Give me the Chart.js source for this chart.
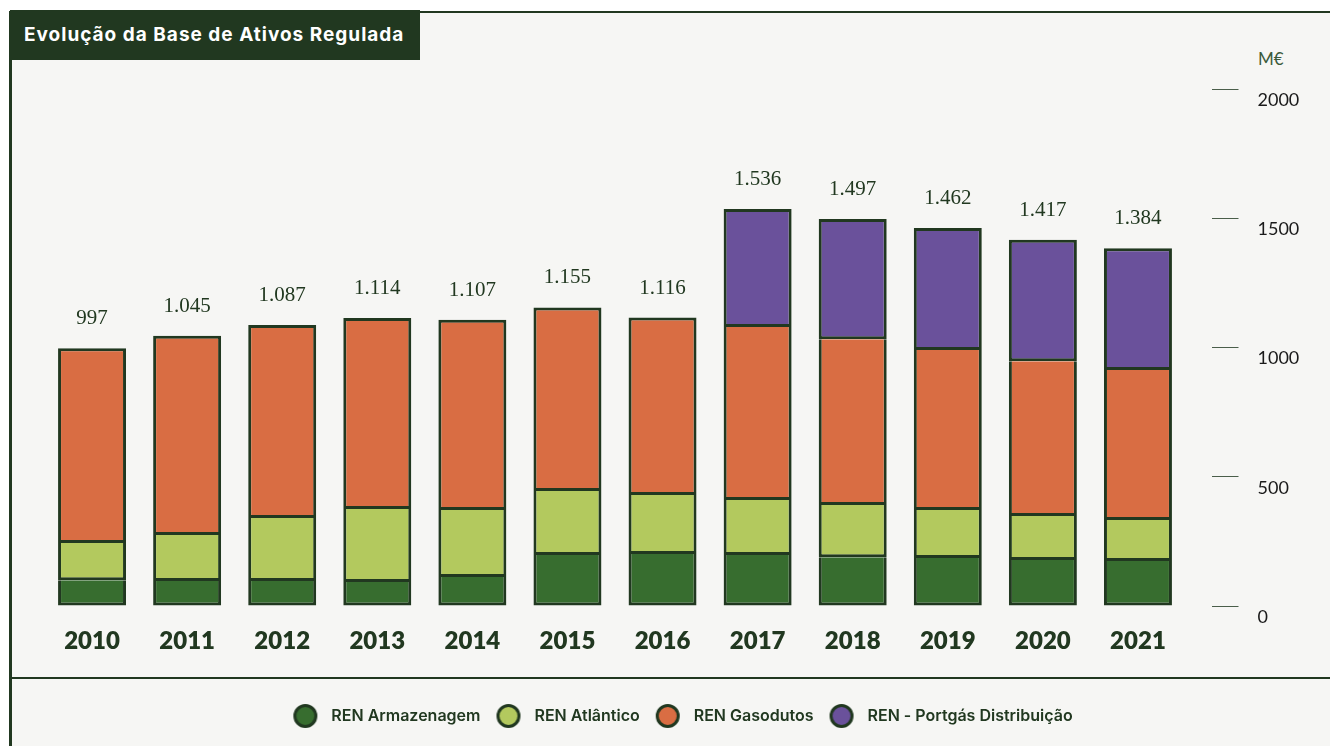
<!DOCTYPE html>
<html>
<head>
<meta charset="utf-8">
<script src="https://cdn.jsdelivr.net/npm/chart.js@4.4.1/dist/chart.umd.min.js"></script>
<style>
    html, body { margin: 0; padding: 0; background: #ffffff; }
    #frame {
        position: absolute; left: 9px; top: 11px; width: 1321px; height: 735px;
        background: #f6f6f4; border-left: 3px solid #213820; border-top: 2px solid #213820;
        box-sizing: border-box;
    }
    #title {
        position: absolute; left: 10px; top: 10px; width: 410px; height: 50px;
        background: #213820; color: #ffffff; font: 700 19px Inter, sans-serif; letter-spacing: 1px;
        line-height: 50px; padding-left: 14px; box-sizing: border-box;
    }
    #rule { position: absolute; left: 10px; top: 677px; width: 1320px; height: 2px; background: #213820; }
    #unit { position: absolute; left: 1258px; top: 48px; font: 400 17px Lato, sans-serif; color: #3b5a3b; }
    #chart { position: absolute; left: 0; top: 0; }
</style>
</head>
<body>
<div id="frame"></div>
<div id="title">Evolução da Base de Ativos Regulada</div>
<div id="rule"></div>
<div id="unit">M€</div>
<canvas id="chart" width="1330" height="746"></canvas>
<script>
// Data (M€):
const years = ["2010", "2011", "2012", "2013", "2014", "2015", "2016", "2017", "2018", "2019", "2020", "2021"];
const armazenagem = [100, 97, 97, 93, 112, 197, 201, 197, 189, 186, 178, 174];
const atlantico = [144, 178, 243, 282, 259, 248, 228, 213, 202, 185, 170, 159];
const gasodutos = [753, 770, 747, 739, 736, 710, 687, 669, 641, 619, 599, 580];
const portgas = [null, null, null, null, null, null, null, 457, 465, 472, 470, 471];
const yTicks = [0, 500, 1000, 1500, 2000];

const darkLine = "#213820";

// Legend dot (image point style):
function makeDot(color)
{
    const c = document.createElement("canvas");
    c.width = 26;
    c.height = 26;
    const ctx = c.getContext("2d");
    ctx.beginPath();
    ctx.arc(13, 13, 10.5, 0, Math.PI * 2);
    ctx.fillStyle = color;
    ctx.fill();
    ctx.lineWidth = 3;
    ctx.strokeStyle = darkLine;
    ctx.stroke();
    return c;
}

function formatPt(v)
{
    return String(v).replace(/\B(?=(\d{3})+(?!\d))/g, ".");
}

// Totals above each stack:
const totalsPlugin = {
    id: "totals",
    afterDatasetsDraw: function (chart)
    {
        const ctx = chart.ctx;
        ctx.save();
        ctx.font = "400 21px 'Liberation Serif', serif";
        ctx.fillStyle = darkLine;
        ctx.textAlign = "center";
        ctx.textBaseline = "alphabetic";
        for (let i = 0; i < years.length; i++)
        {
            let total = 0;
            let topBar = null;
            chart.data.datasets.forEach(function (ds, d) {
                if (ds.data[i] != null)
                {
                    total += ds.data[i];
                    topBar = chart.getDatasetMeta(d).data[i];
                }
            });
            ctx.fillText(formatPt(total), topBar.x, topBar.y - 24);
        }
        ctx.restore();
    }
};

const series = [
    {label: "REN Armazenagem", data: armazenagem, color: "#376d2f"},
    {label: "REN Atlântico", data: atlantico, color: "#b3c95e"},
    {label: "REN Gasodutos", data: gasodutos, color: "#d96d43"},
    {label: "REN - Portgás Distribuição", data: portgas, color: "#6a519b"},
];

// Segment on top of its stack keeps its top border, others leave it to the next one:
function isTopSegment(d, i)
{
    for (let k = d + 1; k < series.length; k++)
    {
        if (series[k].data[i] != null) return false;
    }
    return true;
}

const datasets = series.map(function (s, d) {
    return {
        label: s.label,
        data: s.data,
        backgroundColor: s.color,
        borderColor: darkLine,
        borderWidth: 3,
        borderSkipped: function (ctx) { return isTopSegment(d, ctx.dataIndex) ? false : "top"; },
        categoryPercentage: 1,
        barPercentage: 0.715,
    };
});

const dots = series.map(function (s) { return makeDot(s.color); });

new Chart(document.getElementById("chart"), {
    type: "bar",
    data: {labels: years, datasets: datasets},
    plugins: [totalsPlugin],
    options: {
        responsive: false,
        animation: false,
        devicePixelRatio: 1,
        layout: {padding: {left: 44.5, top: 89, right: 14.5, bottom: 12}},
        plugins: {
            tooltip: {enabled: false},
            legend: {
                position: "bottom",
                labels: {
                    usePointStyle: true,
                    pointStyleWidth: 36,
                    padding: 10,
                    color: darkLine,
                    font: {family: "Inter", size: 16, weight: "600"},
                    generateLabels: function (chart) {
                        return chart.data.datasets.map(function (ds, i) {
                            return {
                                text: ds.label,
                                fillStyle: ds.backgroundColor,
                                strokeStyle: darkLine,
                                lineWidth: 0,
                                pointStyle: dots[i],
                                datasetIndex: i,
                                hidden: false,
                                fontColor: darkLine,
                            };
                        });
                    }
                }
            }
        },
        scales: {
            x: {
                stacked: true,
                grid: {display: false, drawTicks: false},
                border: {display: false},
                afterFit: function (scale) { scale.height = 92; },
                ticks: {
                    color: darkLine,
                    padding: 21,
                    font: {family: "Lato", size: 24, weight: "800"}
                }
            },
            y: {
                stacked: true,
                position: "right",
                min: 0,
                max: 2000,
                afterFit: function (scale) { scale.width = 130; },
                afterBuildTicks: function (scale) {
                    scale.ticks = yTicks.map(function (v) { return {value: v}; });
                },
                border: {display: false},
                grid: {
                    drawOnChartArea: false,
                    drawTicks: true,
                    tickLength: 53,
                    tickColor: "#4a5e4a",
                    tickWidth: 1,
                    tickBorderDash: [0, 26, 27, 1000]
                },
                ticks: {
                    color: "#1a1a1a",
                    padding: 19,
                    labelOffset: 11,
                    font: {family: "Lato", size: 18},
                    callback: function (value) { return String(value); }
                }
            }
        }
    }
});
</script>
</body>
</html>
